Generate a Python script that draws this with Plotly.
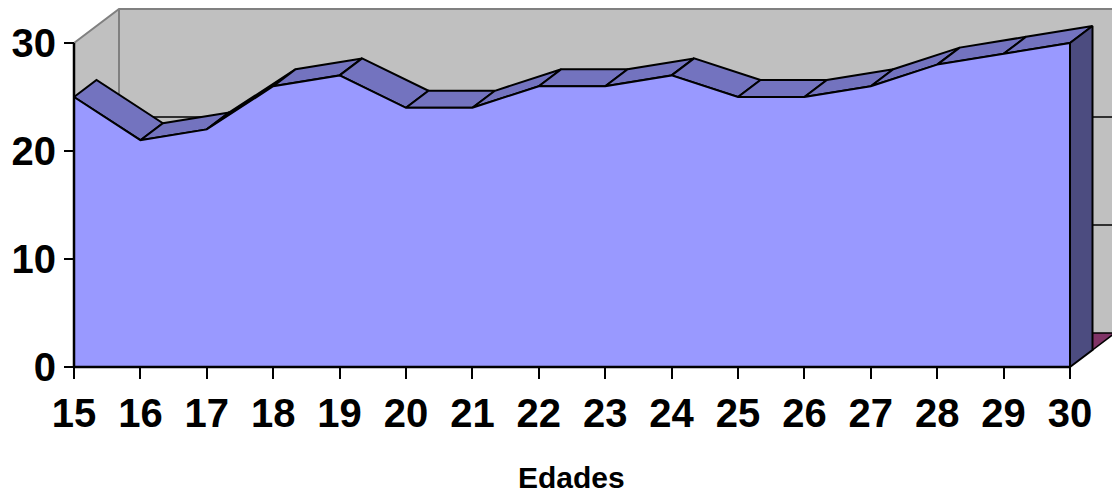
import plotly.graph_objects as go

# Ages on the category axis and counts for the plotted series
edades = [15, 16, 17, 18, 19, 20, 21, 22, 23, 24, 25, 26, 27, 28, 29, 30]
serie_1 = [25, 21, 22, 26, 27, 24, 24, 26, 26, 27, 25, 25, 26, 28, 29, 30]
serie_2 = [0] * len(edades)
y_ticks = [0, 10, 20, 30]

# Oblique 3-D projection: full depth of the box and depth of one series row,
# expressed in axis units (x: categories, y: values)
W, H = 1112, 495
X_LEFT_PX, X_RIGHT_PX = 74, 1070
Y_ZERO_PX, Y_TOP_PX = 367, 43
px_per_x = (X_RIGHT_PX - X_LEFT_PX) / (edades[-1] - edades[0])
px_per_y = (Y_ZERO_PX - Y_TOP_PX) / y_ticks[-1]
DX = 45 / px_per_x
DY = 34 / px_per_y
HX, HY = DX / 2, DY / 2

x0, x1 = edades[0], edades[-1]
ymax = y_ticks[-1]

WALL = "#C0C0C0"
WALL_EDGE = "#808080"
FRONT = "#9999FF"
TOP = "#7373BF"
SIDE = "#4C4C80"
SERIE2_TOP = "#7F3366"

fig = go.Figure()


def poly(xs, ys, fill, line_color="black", width=2):
    fig.add_trace(go.Scatter(
        x=list(xs) + [xs[0]], y=list(ys) + [ys[0]], mode="lines",
        fill="toself", fillcolor=fill,
        line=dict(color=line_color, width=width),
        hoverinfo="skip", showlegend=False))


def seg(xs, ys, color, width=1.5):
    fig.add_trace(go.Scatter(
        x=xs, y=ys, mode="lines", line=dict(color=color, width=width),
        hoverinfo="skip", showlegend=False))


# Side wall and back wall
poly([x0, x0, x0 + DX, x0 + DX], [0, ymax, ymax + DY, DY], WALL, WALL, 0.1)
poly([x0 + DX, x1 + DX + 1, x1 + DX + 1, x0 + DX],
     [DY, DY, ymax + DY, ymax + DY], WALL, WALL, 0.1)

# Major gridlines on the walls
for v in y_ticks[1:-1]:
    seg([x0, x0 + DX, x1 + DX + 1], [v, v + DY, v + DY], "black", 1.5)

# Wall edges
seg([x0, x0 + DX, x1 + DX + 1], [ymax, ymax + DY, ymax + DY], WALL_EDGE, 2)
seg([x0 + DX, x0 + DX], [DY, ymax + DY], WALL_EDGE, 2)

# Second series (all zero) sits in the back row
poly([x0 + HX, x1 + HX, x1 + DX, x0 + DX],
     [serie_2[0] + HY, serie_2[-1] + HY, serie_2[-1] + DY, serie_2[0] + DY],
     SERIE2_TOP, "black", 1.5)

# First series: top ribbon, one face per segment
for i in range(len(edades) - 1):
    xa, xb = edades[i], edades[i + 1]
    ya, yb = serie_1[i], serie_1[i + 1]
    poly([xa, xb, xb + HX, xa + HX], [ya, yb, yb + HY, ya + HY], TOP)

# Right end face
poly([x1, x1, x1 + HX, x1 + HX], [0, serie_1[-1], serie_1[-1] + HY, HY], SIDE)

# Front face
poly([x0] + edades + [x1], [0] + serie_1 + [0], FRONT)

fig.update_layout(
    width=W, height=H,
    margin=dict(l=0, r=0, t=0, b=0),
    paper_bgcolor="white", plot_bgcolor="white",
    font=dict(family="Liberation Sans, Arial, sans-serif", color="black"),
    showlegend=False,
    xaxis=dict(
        range=[x0 - X_LEFT_PX / px_per_x, x1 + (W - X_RIGHT_PX) / px_per_x],
        tickmode="array", tickvals=edades,
        ticktext=[f"<b>{e}</b>" for e in edades],
        tickfont=dict(size=40), ticks="outside", ticklen=11, tickwidth=2,
        tickcolor="black", showgrid=False, zeroline=False, showline=False,
        anchor="free", position=(H - Y_ZERO_PX) / H,
        automargin=False, fixedrange=True,
    ),
    yaxis=dict(
        range=[-(H - Y_ZERO_PX) / px_per_y, ymax + Y_TOP_PX / px_per_y],
        tickmode="array", tickvals=y_ticks,
        ticktext=[f"<b>{v}</b>" for v in y_ticks],
        tickfont=dict(size=40), ticks="outside", ticklen=10, tickwidth=2,
        tickcolor="black", showgrid=False, zeroline=False, showline=False,
        anchor="free", position=X_LEFT_PX / W,
        automargin=False, fixedrange=True,
    ),
    annotations=[dict(
        text="<b>Edades</b>", xref="paper", yref="paper",
        x=571 / W, y=1 - 477 / H, xanchor="center", yanchor="middle",
        showarrow=False, font=dict(size=30),
    )],
)

# Axis lines along the front of the box
seg([x0, x0], [0, ymax], "black", 2.5)
seg([x0, x1], [0, 0], "black", 2.5)

fig.write_html("out.html")
